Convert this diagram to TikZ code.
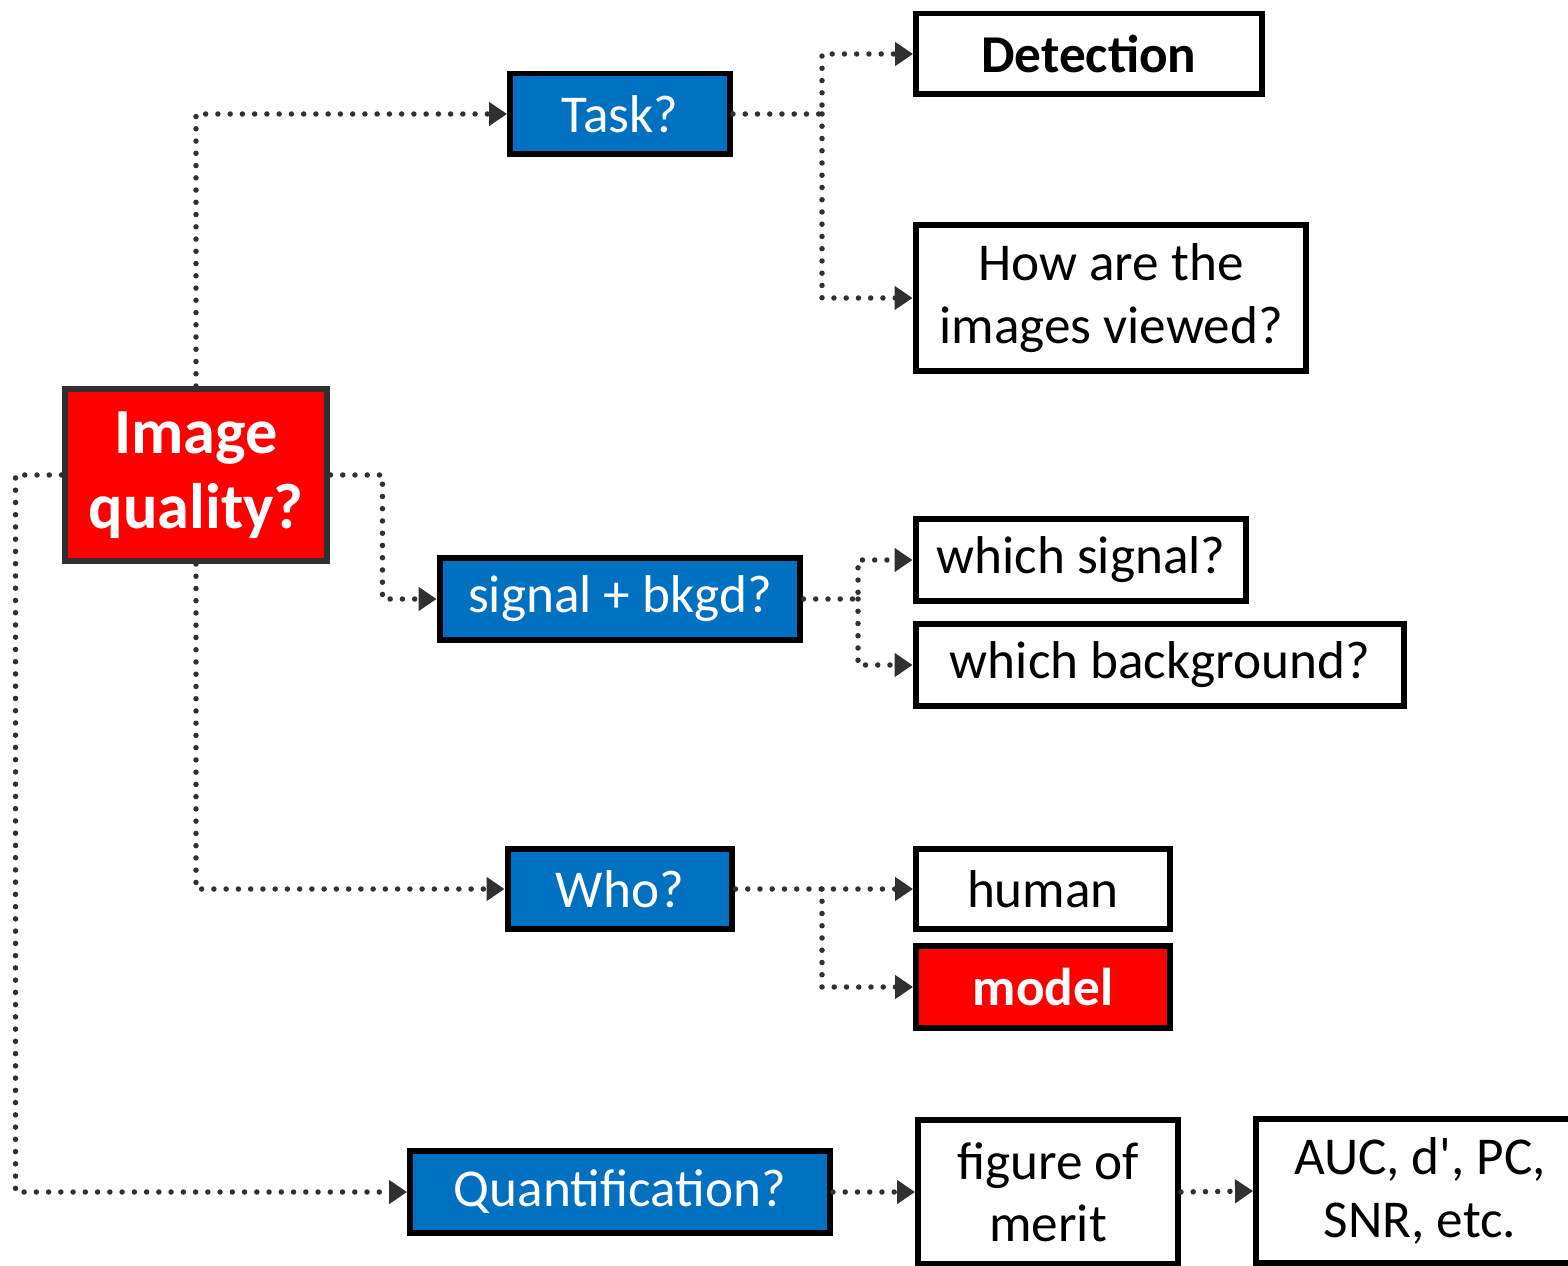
\documentclass[tikz,border=0pt]{standalone}
\usepackage{fontspec}
\setmainfont{Carlito}[Ligatures=TeXOff]
\usepackage{xcolor}
\usetikzlibrary{arrows.meta,positioning}
\definecolor{qblue}{HTML}{0070C0}
\definecolor{iqred}{HTML}{FF0000}
\definecolor{dotgray}{HTML}{303030}
\newcommand{\boxfont}{\fontsize{30.3pt}{35.5pt}\selectfont}
\newcommand{\iqfont}{\fontsize{36.6pt}{43pt}\selectfont}

\begin{document}
\begin{tikzpicture}[x=0.02cm,y=-0.02cm,
  box/.style={draw=black,line width=0.12cm,inner sep=0pt,align=center,font=\boxfont},
  qbox/.style={box,fill=qblue,text=white},
  abox/.style={box,fill=white,text=black},
  iqbox/.style={box,draw=dotgray,fill=iqred,text=white,font=\iqfont\bfseries},
  conn/.style={draw=dotgray,line width=0.11cm,line cap=round,dash pattern=on 0pt off 0.245cm,
    -{Triangle[length=0.36cm,width=0.46cm]}}]
  \useasboundingbox (0,0) rectangle (1568,1266);

  % root
  \node[iqbox,minimum width=5.26cm,minimum height=3.44cm] (iq) at (196,475) {Image\\quality?};

  % questions
  \node[qbox,minimum width=4.4cm,minimum height=1.62cm] (task) at (620,114) {Task?};
  \node[qbox,minimum width=7.22cm,minimum height=1.64cm] (sig) at (620,599) {signal + bkgd?};
  \node[qbox,minimum width=4.5cm,minimum height=1.62cm] (who) at (620,889) {Who?};
  \node[qbox,minimum width=8.4cm,minimum height=1.64cm] (quant) at (620,1192) {Quantification?};

  % answers
  \node[abox,minimum width=6.92cm,minimum height=1.62cm,font=\boxfont\bfseries] (det) at (1089,54) {Detection};
  \node[abox,minimum width=7.82cm,minimum height=2.92cm] (view) at (1111,298) {How are the\\images viewed?};
  \node[abox,minimum width=6.62cm,minimum height=1.64cm] (wsig) at (1081,560) {which signal?};
  \node[abox,minimum width=9.78cm,minimum height=1.64cm] (wbkg) at (1160,665) {which background?};
  \node[abox,minimum width=5.08cm,minimum height=1.62cm] (human) at (1043,889) {human};
  \node[box,fill=iqred,text=white,font=\boxfont\bfseries,minimum width=5.08cm,minimum height=1.64cm] (model) at (1043,987) {model};
  \node[abox,minimum width=5.2cm,minimum height=2.88cm] (fom) at (1048,1192) {figure of\\merit};
  \node[abox,minimum width=6.56cm,minimum height=2.9cm] (auc) at (1420,1191) {AUC, d', PC,\\SNR, etc.};

  % connectors
  \draw[conn] (iq.north) |- (task.west);
  \coordinate (tsplit) at (822,114);
  \draw[conn] (task.east) -- (tsplit) |- (det.west);
  \draw[conn] (tsplit) |- (view.west);

  \draw[conn] (iq.east) -- ++(52,0) |- (sig.west);
  \coordinate (ssplit) at (858,599);
  \draw[conn] (sig.east) -- (ssplit) |- (wsig.west);
  \draw[conn] (ssplit) |- (wbkg.west);

  \draw[conn] (iq.south) |- (who.west);
  \coordinate (wsplit) at (822,889);
  \draw[conn] (who.east) -- (human.west);
  \draw[conn] (wsplit) |- (model.west);

  \draw[conn] (iq.west) -- ++(-46,0) |- (quant.west);
  \draw[conn] (quant.east) -- (fom.west);
  \draw[conn] (fom.east) -- (auc.west);
\end{tikzpicture}
\end{document}
